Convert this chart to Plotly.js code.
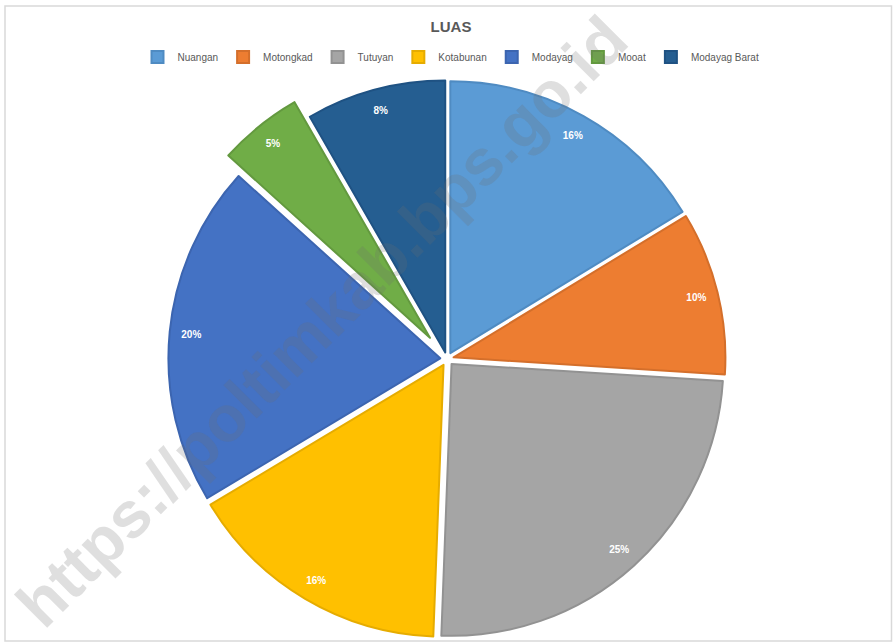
<!DOCTYPE html>
<html>
<head>
<meta charset="utf-8">
<script src="https://cdn.plot.ly/plotly-3.0.1.min.js"></script>
<style>html,body{margin:0;padding:0;background:#fff;overflow:hidden;}#chart{width:893px;height:660px;}</style>
</head>
<body>
<div id="chart"></div>
<script>
const labels = ["Nuangan", "Motongkad", "Tutuyan", "Kotabunan", "Modayag", "Mooat", "Modayag Barat"];
const values = [16.3, 9.7, 24.6, 15.8, 20.3, 5.0, 8.3];
const colors = ["#5B9BD5", "#ED7D31", "#A5A5A5", "#FFC000", "#4472C4", "#70AD47", "#255E91"];
const edgeColors = ["#4F8BC2", "#D46F2B", "#929292", "#E6AC00", "#3C65B0", "#63993F", "#1F5283"];
const pulls = [0.025, 0.025, 0.025, 0.025, 0.025, 0.1, 0.025];
const chartTitle = "LUAS";
const watermark = "https://poltimkab.bps.go.id";

const W = 893, H = 660;
const cx = 447, cy = 359, half = 299;
const domain = {
  x: [(cx - half) / W, (cx + half) / W],
  y: [(H - cy - half) / H, (H - cy + half) / H]
};

const mainPie = {
  type: "pie",
  labels: labels,
  values: values,
  sort: false,
  direction: "clockwise",
  rotation: 0,
  pull: pulls,
  domain: domain,
  marker: { colors: colors, line: { color: edgeColors, width: 2 } },
  textinfo: "none",
  hoverinfo: "label+percent",
  showlegend: true
};

const labelRing = {
  type: "pie",
  labels: labels,
  values: values,
  sort: false,
  direction: "clockwise",
  rotation: 0,
  pull: pulls,
  hole: 0.84,
  domain: domain,
  marker: { colors: labels.map(() => "rgba(0,0,0,0)"), line: { width: 0 } },
  texttemplate: "%{percent:.0%}",
  textposition: "inside",
  insidetextorientation: "horizontal",
  textfont: { family: "Liberation Sans, Arial, sans-serif", size: 10, color: "#ffffff", weight: "bold" },
  hoverinfo: "skip",
  showlegend: false
};

const layout = {
  width: W,
  height: H,
  margin: { l: 0, r: 0, t: 0, b: 0 },
  paper_bgcolor: "#ffffff",
  plot_bgcolor: "#ffffff",
  title: {
    text: "<b>" + chartTitle + "</b>",
    x: 451 / W, xanchor: "center",
    y: 1 - 27 / H, yanchor: "middle",
    font: { family: "Liberation Sans, Arial, sans-serif", size: 15, color: "#595959" }
  },
  legend: {
    orientation: "h",
    x: 451 / W, xanchor: "center",
    y: 1 - 57 / H, yanchor: "middle",
    font: { family: "Liberation Sans, Arial, sans-serif", size: 10, color: "#595959" },
    itemwidth: 30,
    bgcolor: "rgba(0,0,0,0)"
  },
  shapes: [{
    type: "rect", xref: "paper", yref: "paper",
    x0: 5 / W, x1: 891.5 / W, y0: 1 - 641 / H, y1: 1 - 6 / H,
    line: { color: "#d9d9d9", width: 1.5 }, fillcolor: "rgba(0,0,0,0)", layer: "below"
  }],
  annotations: [{
    text: "<b>" + watermark + "</b>",
    xref: "paper", yref: "paper",
    x: 322 / W, y: 1 - 322 / H,
    xanchor: "center", yanchor: "middle",
    textangle: -45,
    showarrow: false,
    font: { family: "Liberation Sans, Arial, sans-serif", size: 65, color: "rgba(110,110,110,0.22)" }
  }]
};

Plotly.newPlot("chart", [mainPie, labelRing], layout, { displayModeBar: false, staticPlot: true });
</script>
</body>
</html>
